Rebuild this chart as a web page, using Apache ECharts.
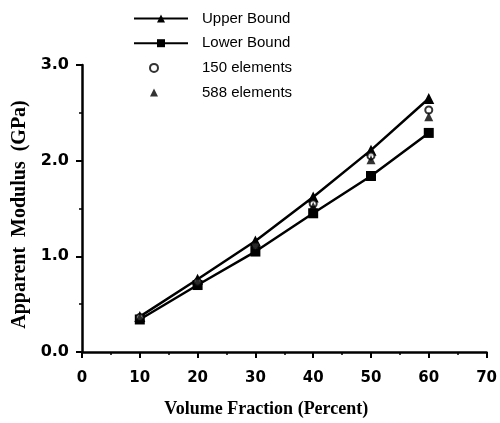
<!DOCTYPE html>
<html><head><meta charset="utf-8">
<script src="https://cdn.jsdelivr.net/npm/echarts@6/dist/echarts.min.js"></script>
<style>html,body{margin:0;padding:0;background:#fff}#c{width:500px;height:423px}</style>
</head><body><div id="c"></div>
<script>
var volumeFraction = [10, 20, 30, 40, 50, 60];
var upperBound = [0.37, 0.76, 1.16, 1.62, 2.11, 2.65];
var lowerBound = [0.34, 0.70, 1.05, 1.45, 1.84, 2.29];
var elements150 = [0.36, 0.73, 1.11, 1.55, 2.05, 2.53];
var elements588 = [0.36, 0.74, 1.13, 1.52, 2.01, 2.46];
var seriesNames = ['Upper Bound', 'Lower Bound', '150 elements', '588 elements'];

function pairs(ys){ return volumeFraction.map(function(x,i){ return [x, ys[i]]; }); }

var chart = echarts.init(document.getElementById('c'));
var legendText = {fontFamily:'Liberation Sans', fontSize:15, color:'#000', lineHeight:15};
chart.setOption({
  animation:false,
  backgroundColor:'#fff',
  grid:{left:82, right:10, top:65, bottom:68},
  legend:[
    {orient:'vertical', left:128, top:6, itemWidth:54, itemHeight:10, itemGap:9.7,
     data:[seriesNames[0], seriesNames[1]],
     textStyle:Object.assign({padding:[0,0,0,9]}, legendText)},
    {orient:'vertical', left:144, top:55.4, itemWidth:8, itemHeight:8, itemGap:9.7,
     data:[seriesNames[2], seriesNames[3]],
     textStyle:Object.assign({padding:[0,0,0,39]}, legendText)}
  ],
  xAxis:{
    type:'value', min:0, max:70, interval:10,
    name:'Volume Fraction (Percent)', nameLocation:'middle', nameGap:48,
    nameTextStyle:{fontFamily:'Liberation Serif', fontWeight:'bold', fontSize:18, color:'#000', padding:[0,36,0,0]},
    axisLine:{show:true, onZero:false, lineStyle:{color:'#000', width:2.5}},
    axisTick:{show:true, length:6, lineStyle:{color:'#000', width:2}},
    minorTick:{show:true, splitNumber:2, length:3, lineStyle:{color:'#000', width:1.5}},
    axisLabel:{margin:19, fontFamily:'DejaVu Sans', fontWeight:'bold', fontSize:15, color:'#000'},
    splitLine:{show:false}
  },
  yAxis:{
    type:'value', min:0, max:3, interval:1,
    name:'Apparent  Modulus  (GPa)', nameLocation:'middle', nameGap:50, nameRotate:90,
    nameTextStyle:{fontFamily:'Liberation Serif', fontWeight:'bold', fontSize:20, color:'#000', padding:[0,12,0,0]},
    axisLine:{show:true, lineStyle:{color:'#000', width:2.5}},
    axisTick:{show:true, length:6, lineStyle:{color:'#000', width:2}},
    minorTick:{show:true, splitNumber:2, length:3, lineStyle:{color:'#000', width:1.5}},
    axisLabel:{margin:13, fontFamily:'DejaVu Sans', fontWeight:'bold', fontSize:16, color:'#000',
      formatter:function(v){return v.toFixed(1);}},
    splitLine:{show:false}
  },
  series:[
    {name:seriesNames[0], type:'line', data:pairs(upperBound), symbol:'triangle', symbolSize:11,
     lineStyle:{color:'#000', width:2.5}, itemStyle:{color:'#000'}, z:3},
    {name:seriesNames[1], type:'line', data:pairs(lowerBound), symbol:'rect', symbolSize:10,
     lineStyle:{color:'#000', width:2.5}, itemStyle:{color:'#000'}, z:3},
    {name:seriesNames[2], type:'scatter', data:pairs(elements150), symbol:'circle', symbolSize:7,
     itemStyle:{color:'#fff', borderColor:'#000', borderWidth:2}, z:4},
    {name:seriesNames[3], type:'scatter', data:pairs(elements588), symbol:'triangle', symbolSize:9,
     itemStyle:{color:'#000'}, z:4}
  ]
});
</script></body></html>
